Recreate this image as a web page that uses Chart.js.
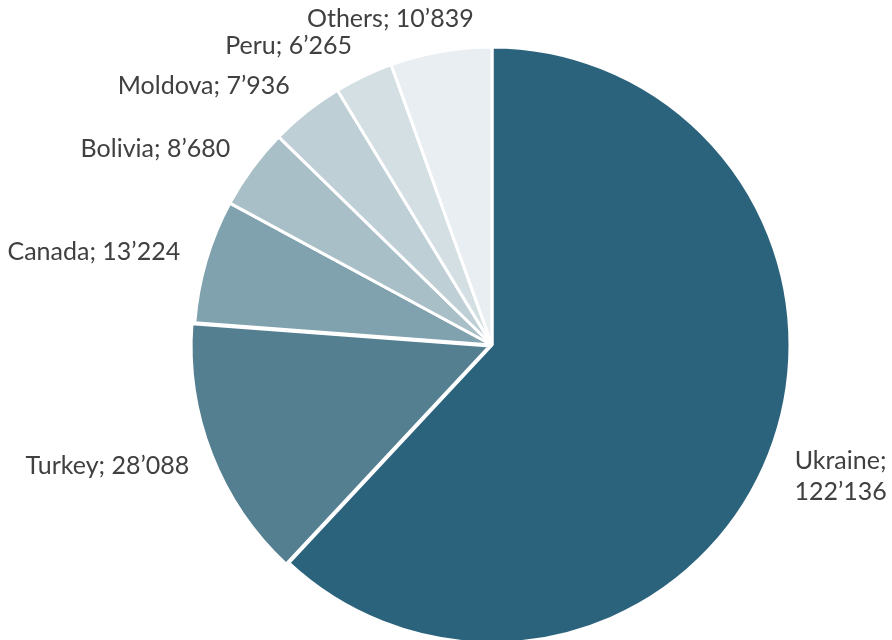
<!DOCTYPE html>
<html lang="en">
  <head>
    <meta charset="UTF-8">
    <title>Production by country</title>
    <script src="https://cdn.jsdelivr.net/npm/chart.js@4"></script>
    <style>
      body { margin: 0; background: #fff; }
    </style>
  </head>
  <body>
    <canvas id="chart" width="892" height="640"></canvas>
    <script type="text/javascript">
      const countries = ['Ukraine', 'Turkey', 'Canada', 'Bolivia', 'Moldova', 'Peru', 'Others']
      const volumes = [122136, 28088, 13224, 8680, 7936, 6265, 10839]
      const sliceColors = ['#2c637c', '#547f91', '#80a1ae', '#a9bfc8', '#bfcfd6', '#d4dfe3', '#e8eef2']

      const FONT = '25px Lato, "Open Sans", sans-serif'

      // 122136 -> 122’136
      const fmt = v => String(v).replace(/\B(?=(\d{3})+(?!\d))/g, '\u2019')

      // draws "Name; value" just outside each slice, wrapping when it runs off the canvas
      const outsideLabels = {
        id: 'outsideLabels',
        afterDraw(chart) {
          const ctx = chart.ctx
          const meta = chart.getDatasetMeta(0)
          const lineH = 31
          ctx.save()
          ctx.font = FONT
          ctx.fillStyle = '#404040'
          ctx.textBaseline = 'middle'
          ctx.textAlign = 'left'
          meta.data.forEach((arc, i) => {
            const p = arc.getProps(['x', 'y', 'startAngle', 'endAngle', 'outerRadius'], true)
            const mid = (p.startAngle + p.endAngle) / 2
            const cos = Math.cos(mid), sin = Math.sin(mid)
            const r = p.outerRadius + 27
            const ax = p.x + cos * r
            const ay = p.y + sin * r
            const value = fmt(chart.data.datasets[0].data[i])
            const text = countries[i] + '; ' + value
            let lines = [text]
            const room = cos >= 0 ? chart.width - ax : ax
            if (ctx.measureText(text).width > room) lines = [countries[i] + ';', value]
            const w = Math.max(...lines.map(l => ctx.measureText(l).width))
            // horizontal placement: right of anchor on the right side, left of it on the left
            const f = Math.min(1, Math.max(0, 0.5 + cos * 1.6))
            const left = ax - w * (1 - f)
            const cy = ay + sin * 6 + (lines.length - 1) * (lineH / 2 - 5)
            lines.forEach((l, k) => {
              const lx = lines.length > 1 ? left + (w - ctx.measureText(l).width) / 2 : left
              ctx.fillText(l, lx, cy - (lines.length - 1) * lineH / 2 + k * lineH)
            })
          })
          ctx.restore()
        }
      }

      const ctx = document.getElementById('chart').getContext('2d')
      const chart = new Chart(ctx, {
        type: 'pie',
        data: {
          labels: countries,
          datasets: [{
            data: volumes,
            backgroundColor: sliceColors,
            borderColor: '#ffffff',
            borderWidth: 3,
            offset: [0, 10, 0, 0, 0, 0, 0]
          }]
        },
        options: {
          responsive: false,
          animation: false,
          radius: 298,
          layout: { padding: { left: 100, right: 8, top: 50, bottom: 0 } },
          plugins: {
            legend: { display: false },
            tooltip: { enabled: false }
          }
        },
        plugins: [outsideLabels]
      })
    </script>
  </body>
</html>
